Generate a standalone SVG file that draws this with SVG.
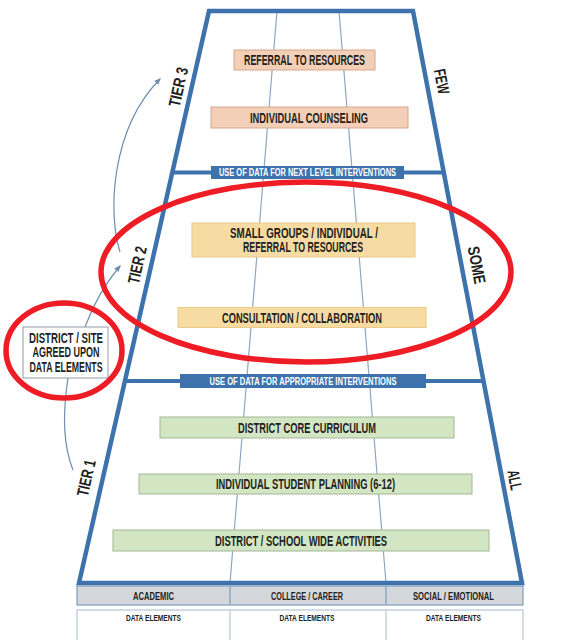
<svg xmlns="http://www.w3.org/2000/svg" width="571" height="640" viewBox="0 0 571 640">
<defs>
<style>
.t{font-family:"Liberation Sans Narrow","Liberation Sans",Arial,sans-serif;font-weight:bold;fill:#231f20;text-anchor:middle;dominant-baseline:central}
.bt{font-family:"Liberation Sans Narrow","Liberation Sans",Arial,sans-serif;font-weight:bold;fill:#ffffff;text-anchor:middle;dominant-baseline:central;font-size:10px}
.peach{fill:#f4cfb8;stroke:#d6a68b;stroke-width:1}
.yellow{fill:#f6dba3;stroke:#ecca86;stroke-width:1}
.green{fill:#d3e6c3;stroke:#a3b696;stroke-width:1}
.banner{fill:#3d72ad}
.edge{fill:none;stroke:#3d72ad;stroke-width:4.5;stroke-linejoin:miter}
.div{stroke:#3d72ad;stroke-width:4}
.inner{stroke:#8ea7c2;stroke-width:1.2}
.arrow{fill:none;stroke:#6f8eae;stroke-width:1.2}
.red{fill:none;stroke:#ee1c24;stroke-width:5.5}
</style>
<marker id="ah" viewBox="0 0 10 10" refX="8" refY="5" markerWidth="7" markerHeight="7" orient="auto" markerUnits="userSpaceOnUse">
<path d="M0,1 L10,5 L0,9 Z" fill="#6f8eae"/>
</marker>
</defs>
<rect width="571" height="640" fill="#ffffff"/>

<g id="pyramid">
<line class="inner" x1="277" y1="11" x2="230" y2="583"/>
<line class="inner" x1="339" y1="11" x2="386" y2="583"/>
<line class="div" x1="172" y1="172.5" x2="444" y2="172.5"/>
<line class="div" x1="125" y1="381" x2="484" y2="381"/>
<path class="edge" d="M209,11 L413,11 L522,583 L79,583 Z"/>
</g>

<g id="bottom-table">
<rect x="77" y="586" width="446" height="19" fill="#d4d7dc" stroke="#7f9cbf" stroke-width="1.2"/>
<line x1="230" y1="586" x2="230" y2="605" stroke="#7f9cbf" stroke-width="1.2"/>
<line x1="386" y1="586" x2="386" y2="605" stroke="#7f9cbf" stroke-width="1.2"/>
<text class="t" x="153.5" y="596" font-size="11" textLength="41" lengthAdjust="spacingAndGlyphs">ACADEMIC</text>
<text class="t" x="307" y="596" font-size="11" textLength="72" lengthAdjust="spacingAndGlyphs">COLLEGE / CAREER</text>
<text class="t" x="453.5" y="596" font-size="11" textLength="81" lengthAdjust="spacingAndGlyphs">SOCIAL / EMOTIONAL</text>
<path d="M77,642 L77,610 L523,610 L523,642" fill="#ffffff" stroke="#c3d0de" stroke-width="1.5"/>
<line x1="230" y1="610" x2="230" y2="640" stroke="#c3d0de" stroke-width="1.5"/>
<line x1="386" y1="610" x2="386" y2="640" stroke="#c3d0de" stroke-width="1.5"/>
<text class="t" x="153.5" y="618" font-size="9" textLength="55" lengthAdjust="spacingAndGlyphs">DATA ELEMENTS</text>
<text class="t" x="307" y="618" font-size="9" textLength="55" lengthAdjust="spacingAndGlyphs">DATA ELEMENTS</text>
<text class="t" x="453.5" y="618" font-size="9" textLength="55" lengthAdjust="spacingAndGlyphs">DATA ELEMENTS</text>
</g>

<g id="referral">
<rect class="peach" x="234" y="50" width="141" height="20"/>
<text class="t" x="304.5" y="60" font-size="14.5" textLength="121" lengthAdjust="spacingAndGlyphs">REFERRAL TO RESOURCES</text>
</g>
<g id="individual-counseling">
<rect class="peach" x="211" y="107" width="197" height="21"/>
<text class="t" x="309" y="117.5" font-size="14.5" textLength="118" lengthAdjust="spacingAndGlyphs">INDIVIDUAL COUNSELING</text>
</g>
<g id="banner-next">
<rect class="banner" x="211" y="166" width="193" height="13"/>
<text class="bt" x="307.5" y="172.8" textLength="177" lengthAdjust="spacingAndGlyphs">USE OF DATA FOR NEXT LEVEL INTERVENTIONS</text>
</g>
<g id="small-groups">
<rect class="yellow" x="192" y="223" width="223" height="34"/>
<text class="t" x="304" y="232.5" font-size="14.5" textLength="148" lengthAdjust="spacingAndGlyphs">SMALL GROUPS / INDIVIDUAL /</text>
<text class="t" x="303" y="247" font-size="14.5" textLength="120" lengthAdjust="spacingAndGlyphs">REFERRAL TO RESOURCES</text>
</g>
<g id="consultation">
<rect class="yellow" x="178" y="307.5" width="248" height="20"/>
<text class="t" x="302" y="317.5" font-size="14.5" textLength="160" lengthAdjust="spacingAndGlyphs">CONSULTATION / COLLABORATION</text>
</g>
<g id="banner-appropriate">
<rect class="banner" x="180" y="374" width="246" height="14"/>
<text class="bt" x="303" y="381.3" textLength="187" lengthAdjust="spacingAndGlyphs">USE OF DATA FOR APPROPRIATE INTERVENTIONS</text>
</g>
<g id="core-curriculum">
<rect class="green" x="160" y="417" width="294" height="21"/>
<text class="t" x="307" y="427.5" font-size="14.5" textLength="138" lengthAdjust="spacingAndGlyphs">DISTRICT CORE CURRICULUM</text>
</g>
<g id="student-planning">
<rect class="green" x="139" y="474" width="333" height="20"/>
<text class="t" x="305.5" y="484" font-size="14.5" textLength="179" lengthAdjust="spacingAndGlyphs">INDIVIDUAL STUDENT PLANNING (6-12)</text>
</g>
<g id="school-wide">
<rect class="green" x="113" y="530" width="376" height="21"/>
<text class="t" x="301" y="540.5" font-size="14.5" textLength="172" lengthAdjust="spacingAndGlyphs">DISTRICT / SCHOOL WIDE ACTIVITIES</text>
</g>

<g id="tier-labels">
<text class="t" font-size="16.5" transform="translate(178,87) rotate(-77.2)" textLength="40" lengthAdjust="spacingAndGlyphs">TIER 3</text>
<text class="t" font-size="16.5" transform="translate(137,265) rotate(-77.2)" textLength="38" lengthAdjust="spacingAndGlyphs">TIER 2</text>
<text class="t" font-size="16.5" transform="translate(86,478) rotate(-77.2)" textLength="37" lengthAdjust="spacingAndGlyphs">TIER 1</text>
<text class="t" font-size="16.5" transform="translate(442,81.5) rotate(79.2)" textLength="25" lengthAdjust="spacingAndGlyphs">FEW</text>
<text class="t" font-size="16.5" transform="translate(477,265) rotate(79.2)" textLength="38" lengthAdjust="spacingAndGlyphs">SOME</text>
<text class="t" font-size="16.5" transform="translate(515,480) rotate(79.2)" textLength="20" lengthAdjust="spacingAndGlyphs">ALL</text>
</g>

<g id="connectors">
<path class="arrow" d="M68,378 C63,410 63,445 73,470"/>
<path class="arrow" d="M85,327 Q98,292 120,266" marker-end="url(#ah)"/>
<path class="arrow" d="M120,252 C108,215 110,130 160,79" marker-end="url(#ah)"/>
</g>

<g id="district-site">
<rect x="23" y="327" width="85" height="51" fill="#ffffff" stroke="#8c9aa8" stroke-width="1"/>
<text class="t" x="66" y="337.5" font-size="14" textLength="74" lengthAdjust="spacingAndGlyphs">DISTRICT / SITE</text>
<text class="t" x="66" y="352" font-size="14" textLength="67" lengthAdjust="spacingAndGlyphs">AGREED UPON</text>
<text class="t" x="66" y="366.5" font-size="14" textLength="73" lengthAdjust="spacingAndGlyphs">DATA ELEMENTS</text>
</g>

<g id="highlights">
<ellipse class="red" cx="306" cy="272" rx="205" ry="90"/>
<ellipse class="red" cx="64" cy="350.5" rx="58" ry="47.5"/>
</g>
</svg>
